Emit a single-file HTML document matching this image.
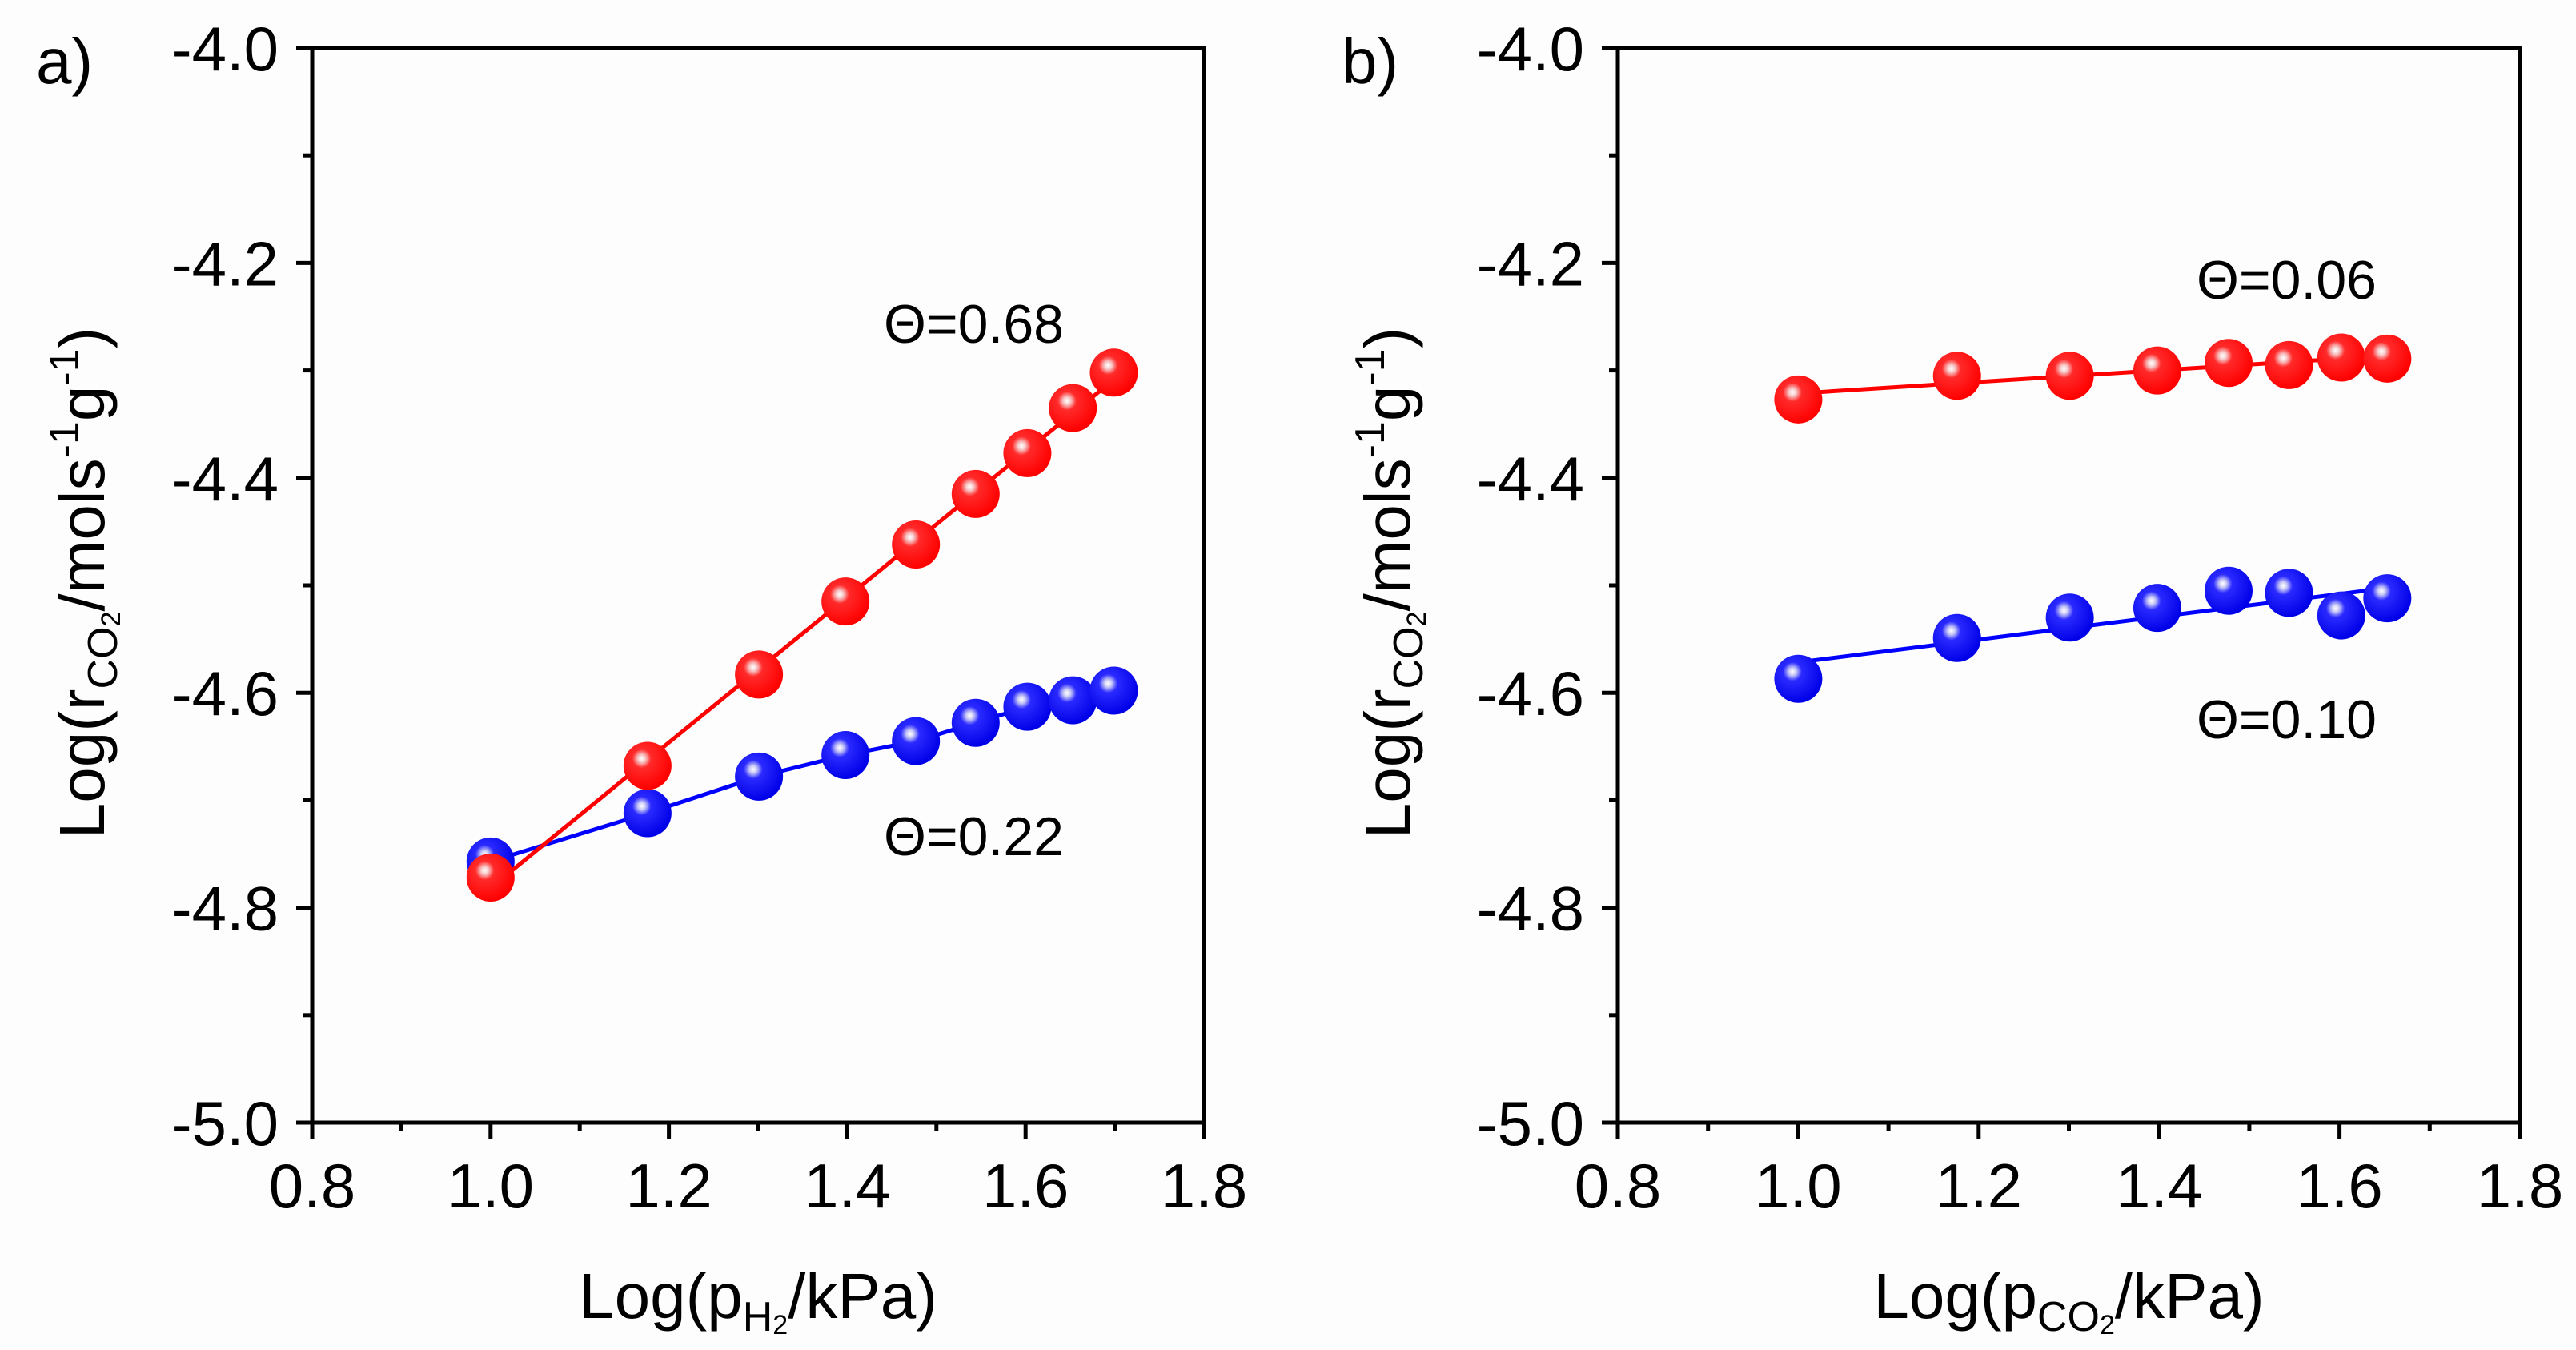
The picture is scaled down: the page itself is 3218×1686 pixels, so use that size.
<!DOCTYPE html>
<html><head><meta charset="utf-8"><style>
html,body{margin:0;padding:0;background:#fff}
svg{display:block}
text{font-family:"Liberation Sans",Arial,sans-serif;fill:#000}
</style></head>
<body>
<svg id="fig" width="3218" height="1686" viewBox="0 0 3218 1686" xmlns="http://www.w3.org/2000/svg">
<defs>
<radialGradient id="gRed" cx="0.38" cy="0.35" r="0.65">
<stop offset="0" stop-color="#fff"/><stop offset="0.12" stop-color="#f7c8c8"/><stop offset="0.3" stop-color="#ff2a2a"/><stop offset="1" stop-color="#f00"/>
</radialGradient>
<radialGradient id="gBlue" cx="0.38" cy="0.35" r="0.65">
<stop offset="0" stop-color="#fff"/><stop offset="0.12" stop-color="#c8c8f7"/><stop offset="0.3" stop-color="#2a2aff"/><stop offset="1" stop-color="#0000e8"/>
</radialGradient>
</defs>
<rect x="0" y="0" width="3218" height="1686" fill="#fdfdfd"/>
<g id="panelA"></g>
<g id="panelB"></g>
</svg>
<script>
// Data
const xA = [1.0, 1.176, 1.301, 1.398, 1.477, 1.544, 1.602, 1.653, 1.699];
const redA = [-4.772, -4.668, -4.583, -4.515, -4.462, -4.415, -4.377, -4.335, -4.302];
const blueA = [-4.757, -4.712, -4.678, -4.658, -4.645, -4.628, -4.613, -4.607, -4.598];
const xB = [1.0, 1.176, 1.301, 1.398, 1.477, 1.544, 1.602, 1.653];
const redB = [-4.327, -4.305, -4.305, -4.300, -4.293, -4.295, -4.288, -4.289];
const blueB = [-4.587, -4.549, -4.530, -4.521, -4.505, -4.507, -4.528, -4.512];
const xTicks = [0.8, 1.0, 1.2, 1.4, 1.6, 1.8];
const yTicks = [-4.0, -4.2, -4.4, -4.6, -4.8, -5.0];

const NS = "http://www.w3.org/2000/svg";
function mk(parent, tag, attrs, txt){
  const e = document.createElementNS(NS, tag);
  for (const k in attrs) e.setAttribute(k, attrs[k]);
  if (txt !== undefined) e.textContent = txt;
  parent.appendChild(e);
  return e;
}
function fit(xs, ys){
  const n = xs.length; let sx=0, sy=0, sxx=0, sxy=0;
  for (let i=0;i<n;i++){sx+=xs[i];sy+=ys[i];sxx+=xs[i]*xs[i];sxy+=xs[i]*ys[i];}
  const b = (n*sxy-sx*sy)/(n*sxx-sx*sx); const a = (sy-b*sx)/n;
  return x => a + b*x;
}

function panel(g, L, R, letter, xs, series, sub, labels){
  const T = 60, B = 1402;
  const X = v => L + (v-0.8)/(1.0)*(R-L);
  const Y = v => T + (-4.0 - v)/(1.0)*(B-T);
  const fr = mk(g,'rect',{x:L,y:T,width:R-L,height:B-T,fill:'none',stroke:'#000','stroke-width':5});
  
  
  for (let i=0;i<=10;i++){
    const v = 0.8 + i*0.1; const major = i%2===0;
    const t = mk(g,'line',{x1:X(v),x2:X(v),y1:B,y2:B+(major?20:11),stroke:'#000','stroke-width':5});
    
    
  }
  xTicks.forEach(v=>{
    const t = mk(g,'text',{x:X(v),y:B+106,'font-size':78,'text-anchor':'middle'}, v.toFixed(1));
    
    
  });
  for (let i=0;i<=10;i++){
    const v = -4.0 - i*0.1; const major = i%2===0;
    const t = mk(g,'line',{x1:L,x2:L-(major?20:11),y1:Y(v),y2:Y(v),stroke:'#000','stroke-width':5});
    
    
  }
  yTicks.forEach(v=>{
    const t = mk(g,'text',{x:L-42,y:Y(v)+28,'font-size':78,'text-anchor':'end'}, v.toFixed(1));
    
    
  });
  const pl = mk(g,'text',{x:L-345,y:104,'font-size':80}, letter);
  
  
  const yt = mk(g,'text',{x:0,y:0,'font-size':80,'text-anchor':'middle',transform:`translate(${L-260},728) rotate(-90)`});
  
  
  yt.appendChild(document.createTextNode('Log(r'));
  mk(yt,'tspan',{'font-size':52,dy:16},'CO');
  mk(yt,'tspan',{'font-size':34,dy:4},'2');
  mk(yt,'tspan',{dy:-20},'/mols');
  mk(yt,'tspan',{'font-size':52,dy:-32},'-1');
  mk(yt,'tspan',{dy:32},'g');
  mk(yt,'tspan',{'font-size':52,dy:-32},'-1');
  mk(yt,'tspan',{dy:32},')');
  const xt = mk(g,'text',{x:(L+R)/2,y:1646,'font-size':80,'text-anchor':'middle'});
  
  
  xt.appendChild(document.createTextNode('Log(p'));
  mk(xt,'tspan',{'font-size':52,dy:16},sub[0]);
  mk(xt,'tspan',{'font-size':34,dy:4},'2');
  mk(xt,'tspan',{dy:-20},'/kPa)');
  series.forEach(s=>{
    const sg = mk(g,'g',{});
    
    
    let pts;
    if (s.poly){ pts = xs.map((x,i)=>X(x)+','+Y(s.ys[i])).join(' '); }
    else { const f = fit(xs, s.ys); const x0=xs[0], x1=xs[xs.length-1]; pts = X(x0)+','+Y(f(x0))+' '+X(x1)+','+Y(f(x1)); }
    const ln = mk(sg,'polyline',{points:pts,fill:'none',stroke:s.color,'stroke-width':5});
    
    
    xs.forEach((x,i)=>{
      const c = mk(sg,'circle',{cx:X(x),cy:Y(s.ys[i]),r:30,fill:s.grad});
      
      
    });
  });
  labels.forEach(l=>{
    const t = mk(g,'text',{x:l.x,y:l.y,'font-size':68}, l.t);
    
    
  });
}

panel(document.getElementById('panelA'), 390, 1504, 'a)', xA,
  [{name:'series-blue',ys:blueA,color:'#0000ff',grad:'url(#gBlue)',poly:true},
   {name:'series-red',ys:redA,color:'#ff0000',grad:'url(#gRed)',poly:false}],
  ['H'],
  [{x:1104,y:428,t:'Θ=0.68'},{x:1104,y:1068,t:'Θ=0.22'}]);
panel(document.getElementById('panelB'), 2021, 3148, 'b)', xB,
  [{name:'series-red',ys:redB,color:'#ff0000',grad:'url(#gRed)',poly:false},
   {name:'series-blue',ys:blueB,color:'#0000ff',grad:'url(#gBlue)',poly:false}],
  ['CO'],
  [{x:2744,y:373,t:'Θ=0.06'},{x:2744,y:922,t:'Θ=0.10'}]);
</script>
</body></html>
